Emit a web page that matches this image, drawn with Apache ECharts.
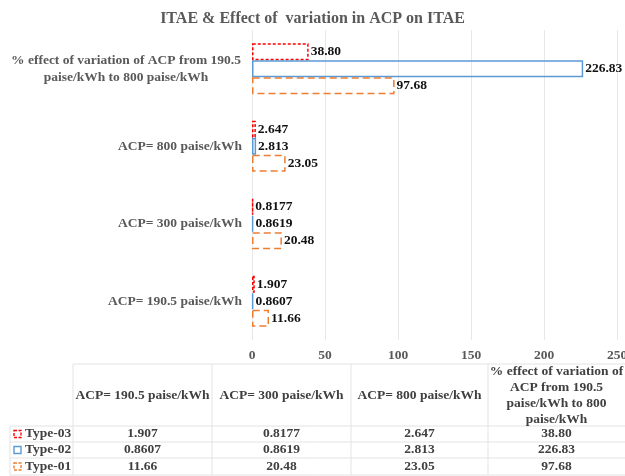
<!DOCTYPE html>
<html>
<head>
<meta charset="utf-8">
<script src="https://cdn.jsdelivr.net/npm/echarts@6/dist/echarts.min.js"></script>
<style>html,body{margin:0;padding:0;background:#fff}#c{width:625px;height:476px}</style>
</head>
<body>
<div id="c"></div>
<script>
const categories = ['ACP= 190.5 paise/kWh', 'ACP= 300 paise/kWh', 'ACP= 800 paise/kWh', '% effect of variation of ACP from 190.5\npaise/kWh to 800 paise/kWh'];
const seriesNames = ['Type-03', 'Type-02', 'Type-01'];
const type03 = [1.907, 0.8177, 2.647, 38.80];
const type02 = [0.8607, 0.8619, 2.813, 226.83];
const type01 = [11.66, 20.48, 23.05, 97.68];
const xMin = 0, xMax = 250, xStep = 50;

const FONT = 'Liberation Serif';
const colors = ['#FF0000', '#5B9BD5', '#ED7D31'];
const dashes = [[3, 2], 'solid', [7, 4]];
const values = [type03, type02, type01];

function fmt(v) { return v >= 10 ? v.toFixed(2) : v.toPrecision(4); }

const ctx = document.createElement('canvas').getContext('2d');
ctx.font = 'bold 13.5px "Liberation Serif"';
function wrap(text, maxW) {
  const words = text.replace('\n', ' ').split(' ');
  const lines = [];
  let cur = '';
  words.forEach(w => {
    const t = cur ? cur + ' ' + w : w;
    if (cur && ctx.measureText(t).width > maxW) { lines.push(cur); cur = w; } else cur = t;
  });
  if (cur) lines.push(cur);
  return lines.join('\n');
}

const chart = echarts.init(document.getElementById('c'));

const series = seriesNames.map((n, i) => ({
  name: n, type: 'bar', data: values[i],
  barGap: '0%', barCategoryGap: '34%',
  itemStyle: { color: 'rgba(255,255,255,0)', borderColor: colors[i], borderWidth: 1.5, borderType: dashes[i] },
  label: { show: true, position: 'right', distance: 2, formatter: p => fmt(p.value),
    fontFamily: FONT, fontWeight: 'bold', fontSize: 13.5, color: '#111' }
}));

// data table graphics
const g = [];
const colX = [73, 212, 351, 488, 625];
const headTop = 364, headBot = 426;
const rowY = [426, 442, 458, 475];
const line = (x1, y1, x2, y2) => g.push({ type: 'line', shape: { x1, y1, x2, y2 }, style: { stroke: '#E3E3E3', lineWidth: 1 }, silent: true });
line(colX[0], headTop, 625, headTop);
rowY.forEach(y => line(10, y, 625, y));
colX.slice(0, 4).forEach(x => line(x, headTop, x, rowY[3]));
line(10, rowY[0], 10, rowY[3]);
const txtStyle = { fontFamily: FONT, fontWeight: 'bold', fontSize: 13.5, fill: '#404040' };
categories.forEach((c, j) => {
  const cx = (colX[j] + colX[j + 1]) / 2;
  g.push({ type: 'text', x: cx, y: (headTop + headBot) / 2 + 1, silent: true,
    style: Object.assign({}, txtStyle, { text: wrap(c, 136), align: 'center', verticalAlign: 'middle', lineHeight: 16 }) });
});
seriesNames.forEach((n, r) => {
  const yc = (rowY[r] + rowY[r + 1]) / 2;
  g.push({ type: 'rect', shape: { x: 14, y: yc - 3.5, width: 7, height: 7 }, silent: true,
    style: { fill: '#fff', stroke: colors[r], lineWidth: 1.4, lineDash: dashes[r] === 'solid' ? null : [3, 1.5] } });
  g.push({ type: 'text', x: 25, y: yc, silent: true,
    style: Object.assign({}, txtStyle, { text: n, align: 'left', verticalAlign: 'middle' }) });
  values[r].forEach((v, j) => {
    g.push({ type: 'text', x: (colX[j] + colX[j + 1]) / 2, y: yc, silent: true,
      style: Object.assign({}, txtStyle, { text: fmt(v), align: 'center', verticalAlign: 'middle' }) });
  });
});

chart.setOption({
  animation: false,
  backgroundColor: '#fff',
  title: { text: 'ITAE & Effect of  variation in ACP on ITAE', left: 'center', top: 6,
    textStyle: { fontFamily: FONT, fontWeight: 'bold', fontSize: 16, color: '#595959' } },
  grid: { left: 252, right: 8, top: 30, bottom: 136, containLabel: false, outerBoundsMode: 'none' },
  xAxis: { type: 'value', min: xMin, max: xMax, interval: xStep,
    axisLine: { show: false }, axisTick: { show: false },
    splitLine: { lineStyle: { color: '#E8E8E8' } },
    axisLabel: { margin: 9, fontFamily: FONT, fontWeight: 'bold', fontSize: 13.5, color: '#595959' } },
  yAxis: { type: 'category', data: categories,
    axisLine: { show: false }, axisTick: { show: false },
    axisLabel: { margin: 10, fontFamily: FONT, fontWeight: 'bold', fontSize: 13.5, color: '#595959',
      formatter: v => v.indexOf('\n') >= 0 ? v.split('\n').map(s => '{c|' + s + '}').join('\n') : v,
      rich: { c: { width: 232, align: 'center', fontFamily: FONT, fontWeight: 'bold', fontSize: 13.5, color: '#595959', lineHeight: 17 } } } },
  series: series,
  graphic: g
});
</script>
</body>
</html>
